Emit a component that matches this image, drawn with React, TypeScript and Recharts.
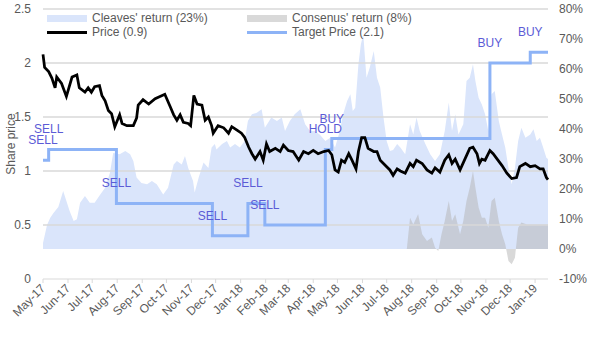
import React from 'react';
import { ComposedChart, Area, Line, XAxis, YAxis, ReferenceLine, LabelList } from 'recharts';

// days counted from 1 May 2017
const monthLabels = [
  'May-17', 'Jun-17', 'Jul-17', 'Aug-17', 'Sep-17', 'Oct-17', 'Nov-17', 'Dec-17',
  'Jan-18', 'Feb-18', 'Mar-18', 'Apr-18', 'May-18', 'Jun-18', 'Jul-18', 'Aug-18',
  'Sep-18', 'Oct-18', 'Nov-18', 'Dec-18', 'Jan-19',
];
const START = Date.UTC(2017, 4, 1);
const monthTicks = monthLabels.map((_, i) => (Date.UTC(2017, 4 + i, 1) - START) / 86400000);
const LAST_DAY = 626;

const priceTicks = [0, 0.5, 1, 1.5, 2, 2.5];
const returnTicks = [-10, 0, 10, 20, 30, 40, 50, 60, 70, 80];

const price: [number, number][] = [
  [0, 2.08], [2, 1.96], [7, 1.92], [11, 1.86], [15, 1.77], [17, 1.87], [23, 1.81], [29, 1.69],
  [36, 1.87], [42, 1.89], [45, 1.77], [52, 1.73], [56, 1.77], [60, 1.73], [64, 1.78], [70, 1.79],
  [73, 1.7], [77, 1.65], [81, 1.56], [85, 1.53], [89, 1.41], [95, 1.52], [98, 1.44], [104, 1.42],
  [112, 1.42], [116, 1.49], [118, 1.61], [124, 1.66], [131, 1.62], [139, 1.67], [145, 1.69],
  [151, 1.71], [158, 1.59], [162, 1.52], [166, 1.47], [170, 1.52], [174, 1.45], [180, 1.44],
  [183, 1.42], [187, 1.7], [191, 1.62], [197, 1.61], [201, 1.47], [205, 1.5], [209, 1.42],
  [211, 1.35], [217, 1.42], [224, 1.4], [230, 1.35], [234, 1.41], [240, 1.38], [246, 1.35],
  [250, 1.31], [255, 1.22], [259, 1.16], [263, 1.11], [269, 1.18], [273, 1.1], [277, 1.25],
  [281, 1.18], [288, 1.21], [294, 1.18], [298, 1.24], [304, 1.19], [310, 1.18], [317, 1.1],
  [323, 1.18], [329, 1.16], [335, 1.19], [341, 1.16], [348, 1.18], [354, 1.19], [358, 1.15],
  [362, 1.01], [366, 0.99], [370, 1.1], [374, 1.08], [379, 1.16], [383, 1.1], [388, 1.02],
  [391, 1.18], [395, 1.31], [399, 1.31], [403, 1.21], [410, 1.18], [414, 1.18], [418, 1.1],
  [426, 1.04], [430, 1.01], [434, 0.96], [439, 1.02], [443, 1.0], [449, 0.98], [455, 1.07],
  [459, 1.04], [463, 1.1], [470, 1.07], [476, 1.01], [482, 0.98], [486, 1.03], [492, 0.99],
  [498, 1.1], [503, 1.15], [507, 1.07], [511, 1.11], [517, 1.01], [523, 1.11], [529, 1.21],
  [533, 1.22], [538, 1.16], [541, 1.07], [544, 1.11], [548, 1.1], [554, 1.19], [558, 1.16],
  [563, 1.11], [569, 1.05], [575, 0.98], [581, 0.93], [587, 0.94], [591, 1.04], [598, 1.07],
  [604, 1.04], [610, 1.05], [616, 1.02], [620, 1.02], [624, 0.94], [626, 0.92],
];

const cleaves: [number, number][] = [
  [0, 2], [5, 8], [9, 10.4], [13, 12], [19, 14], [25, 19.3], [29, 16], [33, 12.7], [38, 9.3],
  [42, 9.9], [46, 15.4], [52, 17.7], [58, 15.4], [64, 15.4], [71, 18.2], [77, 20.4], [83, 25.4],
  [87, 32], [95, 31.6], [102, 32.7], [108, 31.6], [112, 29.3], [116, 23.8], [122, 22], [129, 21.6],
  [135, 22.7], [141, 21.6], [149, 18.2], [155, 20.4], [162, 28.2], [166, 29.3], [172, 28.2],
  [176, 31], [180, 27], [186, 22.7], [188, 18.8], [193, 23.8], [199, 28.8], [205, 27], [209, 33.8],
  [213, 35], [215, 33.2], [222, 35], [228, 36], [232, 33.8], [238, 35], [244, 33.8], [250, 36],
  [254, 42.7], [259, 44.9], [265, 45.4], [271, 46.6], [275, 40.4], [279, 42.1], [283, 43.8],
  [290, 42.7], [296, 43.8], [300, 39.3], [306, 42.7], [312, 44.9], [319, 46.6], [325, 41.6],
  [331, 39.3], [337, 39.3], [343, 38.2], [350, 36], [356, 37.1], [362, 33.8], [368, 39.3],
  [372, 44.9], [377, 49.3], [381, 51.6], [384, 46], [387, 47.1], [391, 61.6], [394, 68.2],
  [397, 71.6], [401, 57.1], [405, 60.4], [410, 66], [414, 57.1], [418, 53.8], [422, 44], [426, 36],
  [430, 32.7], [434, 33], [439, 35], [443, 33.8], [449, 31.6], [455, 41.6], [459, 38.2],
  [463, 43.8], [467, 39.3], [474, 35], [480, 31.6], [486, 29.3], [492, 31.6], [498, 39.3],
  [503, 48.8], [507, 39.3], [511, 44.9], [515, 38.2], [521, 41.6], [525, 56], [529, 57.1],
  [533, 61.6], [536, 56], [540, 50.4], [544, 48.2], [548, 44.9], [552, 39.3], [556, 51.6],
  [560, 52.7], [565, 42.7], [569, 38.2], [573, 33.8], [577, 27], [581, 21.6], [585, 27], [589, 36],
  [593, 40.4], [598, 37.1], [604, 38.2], [608, 39.9], [612, 36], [616, 37.1], [620, 33.8],
  [624, 30.4], [626, 30],
];

const consensus: [number, number][] = [
  [451, 0], [455, 10.4], [459, 8.2], [465, 11.6], [470, 4.9], [476, 2.7], [482, 3.8], [486, 0.4],
  [490, -0.7], [494, 4.9], [498, 9.3], [503, 16], [507, 9.3], [511, 11.6], [517, 4.9], [521, 9.3],
  [525, 16], [529, 20.4], [533, 26], [536, 20.4], [540, 13.8], [544, 10.4], [548, 10.4], [552, 7.1],
  [556, 16], [560, 17.1], [565, 9.3], [569, 4.9], [573, 1.6], [577, -4], [581, -5.1], [585, -2.9],
  [589, 7.1], [593, 8.8], [600, 8.2], [612, 8.2], [624, 8.2], [626, 8.2],
];

const targets: [number, number, string][] = [
  [0, 1.1, 'SELL'], [7, 1.2, 'SELL'], [91, 0.7, 'SELL'], [210, 0.4, 'SELL'], [254, 0.7, 'SELL'],
  [275, 0.5, 'SELL'], [350, 1.2, 'HOLD'], [358, 1.3, 'BUY'], [554, 2.0, 'BUY'], [604, 2.1, 'BUY'],
  [626, 2.1, ''],
];

const priceData = price.map(([d, v]) => ({ d, v }));
const cleavesData = cleaves.map(([d, v]) => ({ d, v }));
const consensusData = consensus.map(([d, v]) => ({ d, v }));
const targetData = targets.map(([d, v, rating]) => ({ d, v, rating }));

const FONT = '"Liberation Sans", Arial, sans-serif';
const GREY_TEXT = '#595959';
const GRID = '#d9d9d9';
const CLEAVES = '#dae5fb';
const TARGET = '#8db3f6';
const RATING = '#5b5bd6';

const MonthTick = (props: any) => {
  const { x, y, payload } = props;
  const i = monthTicks.indexOf(payload.value);
  return (
    <g transform={`translate(${x + 3},${y + 4})`}>
      <text x={0} y={0} textAnchor="end" transform="rotate(-45)" fontSize={12} fill={GREY_TEXT} fontFamily={FONT}>
        {monthLabels[i]}
      </text>
    </g>
  );
};

const legendItems = [
  { name: "Cleaves' return (23%)", kind: 'rect', color: CLEAVES, x: 47, y: 18 },
  { name: "Consenus' return (8%)", kind: 'rect', color: '#d9d9d9', x: 247, y: 18 },
  { name: 'Price (0.9)', kind: 'line', color: '#000', x: 47, y: 32 },
  { name: 'Target Price (2.1)', kind: 'line', color: TARGET, x: 247, y: 32 },
];

const ChartLegend = () => (
  <div style={{ position: 'absolute', left: 0, top: 0, fontFamily: FONT, fontSize: 12, color: GREY_TEXT }}>
    {legendItems.map((it) => (
      <div key={it.name} style={{ position: 'absolute', left: it.x, top: it.y - 7, height: 14, display: 'flex', alignItems: 'center', whiteSpace: 'nowrap' }}>
        <span
          style={{
            display: 'inline-block',
            width: 40,
            height: it.kind === 'rect' ? 7 : 3,
            background: it.color,
            marginRight: 5,
          }}
        />
        {it.name}
      </div>
    ))}
  </div>
);

export default function App() {
  return (
    <div style={{ position: 'absolute', left: 0, top: 0, width: 589, height: 337, background: '#fff' }}>
      <ComposedChart width={589} height={337} margin={{ top: 9, right: 0, bottom: 0, left: 0 }}>
        <XAxis
          xAxisId="t"
          type="number"
          dataKey="d"
          domain={[0, LAST_DAY]}
          ticks={monthTicks}
          interval={0}
          height={58}
          axisLine={{ stroke: GRID }}
          tickLine={{ stroke: GRID }}
          tickSize={4}
          tick={<MonthTick />}
        />
        <YAxis
          yAxisId="price"
          orientation="left"
          domain={[0, 2.5]}
          ticks={priceTicks}
          width={43}
          axisLine={false}
          tickLine={false}
          tickSize={0}
          tickMargin={12}
          tick={{ fontSize: 12, fill: GREY_TEXT, fontFamily: FONT }}
          label={{ value: 'Share price', angle: -90, position: 'insideLeft', offset: 11, style: { textAnchor: 'middle', fontSize: 12, fill: GREY_TEXT, fontFamily: FONT } }}
        />
        <YAxis
          yAxisId="ret"
          orientation="right"
          domain={[-10, 80]}
          ticks={returnTicks}
          width={41}
          axisLine={false}
          tickLine={false}
          tickSize={0}
          tickMargin={11}
          tickFormatter={(v: number) => `${v}%`}
          tick={{ fontSize: 12, fill: GREY_TEXT, fontFamily: FONT, textAnchor: 'start' }}
        />
        <Area
          data={cleavesData}
          xAxisId="t"
          yAxisId="ret"
          dataKey="v"
          type="linear"
          baseValue={0}
          stroke="none"
          fill={CLEAVES}
          fillOpacity={1}
          isAnimationActive={false}
        />
        <Area
          data={consensusData}
          xAxisId="t"
          yAxisId="ret"
          dataKey="v"
          type="linear"
          baseValue={0}
          stroke="none"
          fill="#b4b4b4"
          fillOpacity={0.5}
          isAnimationActive={false}
        />
        {priceTicks.slice(1).map((v) => (
          <ReferenceLine key={v} xAxisId="t" yAxisId="price" y={v} stroke={GRID} strokeWidth={1.3} />
        ))}
        <Line
          data={targetData}
          xAxisId="t"
          yAxisId="price"
          dataKey="v"
          type="stepAfter"
          stroke={TARGET}
          strokeWidth={3}
          dot={false}
          isAnimationActive={false}
        >
          <LabelList dataKey="rating" position="top" offset={16} fill={RATING} fontSize={12} fontFamily={FONT} />
        </Line>
        <Line
          data={priceData}
          xAxisId="t"
          yAxisId="price"
          dataKey="v"
          type="linear"
          stroke="#000"
          strokeWidth={2.75}
          dot={false}
          isAnimationActive={false}
        />
      </ComposedChart>
      <ChartLegend />
    </div>
  );
}
